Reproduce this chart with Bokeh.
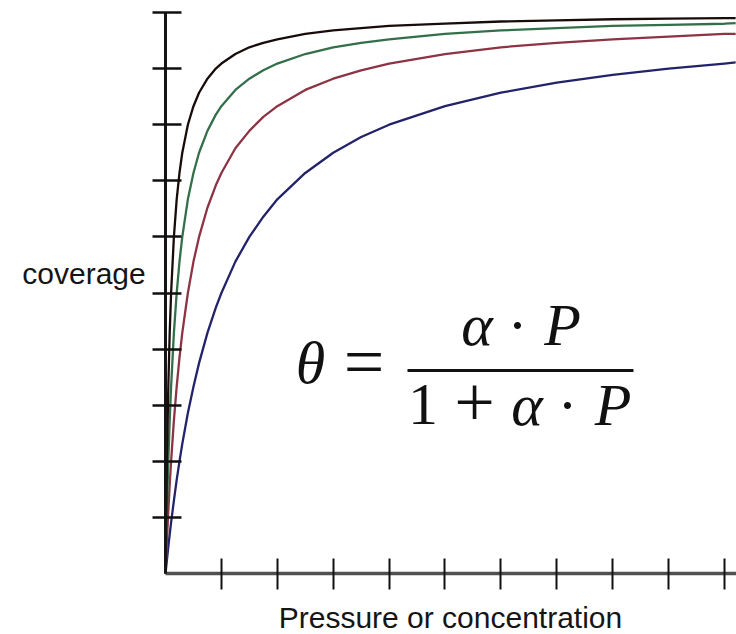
from bokeh.plotting import figure
from bokeh.models import Label, FixedTicker, Range1d
from bokeh.embed import file_html
from bokeh.resources import INLINE

# Langmuir isotherms: fractional coverage vs. pressure, four adsorption strengths
pressure = [0, 0.025, 0.05, 0.075, 0.1, 0.15, 0.2, 0.25, 0.3, 0.4, 0.5, 0.6, 0.75, 0.9,
            1, 1.25, 1.5, 1.75, 2, 2.5, 3, 3.5, 4, 5, 6, 7, 8, 9, 10, 10.2]

coverage_black = [0, 0.200, 0.333, 0.429, 0.500, 0.600, 0.667, 0.714, 0.750, 0.800, 0.833,
                  0.857, 0.882, 0.900, 0.909, 0.926, 0.938, 0.946, 0.952, 0.962, 0.968,
                  0.972, 0.976, 0.980, 0.984, 0.986, 0.988, 0.989, 0.990, 0.990]
coverage_green = [0, 0.111, 0.200, 0.273, 0.333, 0.429, 0.500, 0.556, 0.600, 0.667, 0.714,
                  0.750, 0.789, 0.818, 0.833, 0.862, 0.882, 0.897, 0.909, 0.926, 0.938,
                  0.946, 0.952, 0.962, 0.968, 0.972, 0.976, 0.978, 0.980, 0.981]
coverage_red = [0, 0.059, 0.111, 0.158, 0.200, 0.273, 0.333, 0.385, 0.429, 0.500, 0.556,
                0.600, 0.652, 0.692, 0.714, 0.758, 0.789, 0.814, 0.833, 0.862, 0.882,
                0.897, 0.909, 0.926, 0.938, 0.946, 0.952, 0.957, 0.962, 0.962]
coverage_blue = [0, 0.024, 0.048, 0.070, 0.091, 0.130, 0.167, 0.200, 0.231, 0.286, 0.333,
                 0.375, 0.429, 0.474, 0.500, 0.556, 0.600, 0.636, 0.667, 0.714, 0.750,
                 0.778, 0.800, 0.833, 0.857, 0.875, 0.889, 0.900, 0.909, 0.911]

x_ticks = [1, 2, 3, 4, 5, 6, 7, 8, 9, 10]
y_ticks = [0.1, 0.2, 0.3, 0.4, 0.5, 0.6, 0.7, 0.8, 0.9, 1.0]

series = [
    (coverage_blue, "#23236a"),
    (coverage_red, "#8c3444"),
    (coverage_green, "#33704a"),
    (coverage_black, "#1a0b0b"),
]

# the frame fills the canvas; both axes are pinned to the origin
p = figure(width=736, height=634,
           x_range=Range1d(-2.952, 10.215), y_range=Range1d(-0.1087, 1.0214),
           output_backend="svg", toolbar_location=None,
           min_border_left=0, min_border_right=0,
           min_border_top=0, min_border_bottom=0)
p.grid.visible = False
p.outline_line_color = None
p.background_fill_color = "white"
p.border_fill_color = "white"

for ys, col in series:
    p.line(pressure, ys, line_color=col, line_width=2.3, line_join="round")

# axes: bare tick marks crossing the axis lines, no numbers
ya = p.yaxis[0]
ya.fixed_location = 0
ya.ticker = FixedTicker(ticks=y_ticks)
ya.bounds = (0, 1)
ya.axis_line_color = "#151515"
ya.axis_line_width = 3
ya.major_tick_in = 16
ya.major_tick_out = 13
ya.major_tick_line_width = 2.5
ya.major_tick_line_color = "#111111"
ya.minor_tick_line_color = None
ya.major_label_overrides = {t: "" for t in y_ticks}
ya.major_label_text_font_size = "0px"

xa = p.xaxis[0]
xa.fixed_location = 0
xa.ticker = FixedTicker(ticks=x_ticks)
xa.bounds = (0, 10.215)
xa.axis_line_color = "#505050"
xa.axis_line_width = 3.5
xa.major_tick_in = 15
xa.major_tick_out = 16
xa.major_tick_line_width = 2
xa.major_tick_line_color = "#111111"
xa.minor_tick_line_color = None
xa.major_label_overrides = {t: "" for t in x_ticks}
xa.major_label_text_font_size = "0px"

# axis titles
def title(x, y, s):
    p.add_layout(Label(x=x, y=y, text=s, text_align="center",
                       text_baseline="alphabetic", text_font="Liberation Sans",
                       text_font_size="30px", text_color="#151515"))

title(-1.458, 0.5355, "coverage")
title(5.098, -0.0786, "Pressure or concentration")

# the isotherm equation
def term(x, y, s, italic, size="60px"):
    p.add_layout(Label(x=x, y=y, text=s, text_align="center",
                       text_baseline="alphabetic", text_font="Liberation Serif",
                       text_font_style="italic" if italic else "normal",
                       text_font_size=size, text_color="#111111"))

term(2.594, 0.3761, "θ", True)
term(3.551, 0.3766, "=", False, "72px")
term(5.572, 0.4438, "α", True)
term(6.297, 0.4438, "·", False)
term(7.102, 0.4438, "P", True)
term(4.606, 0.3012, "1", False)
term(5.528, 0.3057, "+", False, "72px")
term(6.467, 0.3012, "α", True)
term(7.191, 0.3012, "·", False)
term(8.005, 0.3012, "P", True)
p.segment(x0=[4.329], y0=[0.3619], x1=[8.372], y1=[0.3619],
          line_color="#111111", line_width=3)

open("out.html", "w").write(file_html(p, INLINE))
